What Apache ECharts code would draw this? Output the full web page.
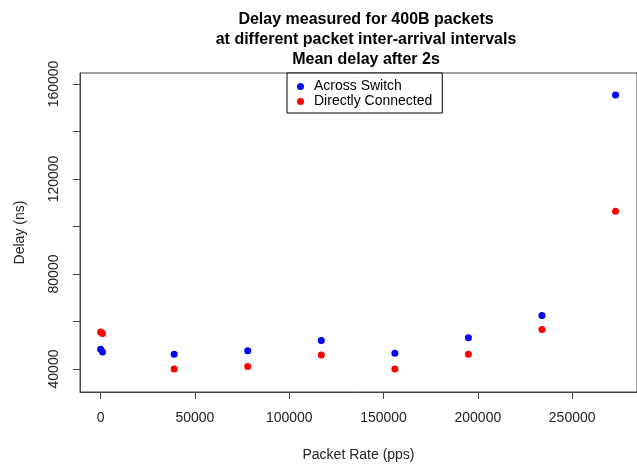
<!DOCTYPE html>
<html>
<head>
<meta charset="utf-8">
<script src="https://cdn.jsdelivr.net/npm/echarts@6/dist/echarts.min.js"></script>
<style>html,body{margin:0;padding:0;background:#fff}#c{width:637px;height:468px}</style>
</head>
<body>
<div id="c"></div>
<script>
const titleLines = ['Delay measured for 400B packets', 'at different packet inter-arrival intervals', 'Mean delay after 2s'];
const seriesNames = ['Across Switch', 'Directly Connected'];
const packetRates = [0, 1000, 39000, 78000, 117000, 156000, 195000, 234000, 273000];
const acrossSwitch = [48300, 47200, 46200, 47700, 52000, 46600, 53200, 62500, 155400];
const directlyConnected = [55600, 55000, 40000, 41100, 45900, 40000, 46200, 56600, 106400];
const xTicks = [0, 50000, 100000, 150000, 200000, 250000];
const yTicks = [40000, 60000, 80000, 100000, 120000, 140000, 160000];
const yLabels = [40000, 80000, 120000, 160000];

const chart = echarts.init(document.getElementById('c'), null, {renderer: 'canvas'});
const font = '"Liberation Sans", Arial, sans-serif';
const axisColor = '#444';
const plain = v => String(Math.round(v));
chart.setOption({
  animation: false,
  backgroundColor: '#fff',
  textStyle: {fontFamily: font},
  title: {
    text: titleLines.join('\n'),
    left: 361, top: 5, textAlign: 'center',
    textStyle: {fontFamily: font, fontSize: 16, fontWeight: 'bold', color: '#000', lineHeight: 20}
  },
  legend: {
    orient: 'vertical', left: 287, top: 73,
    data: seriesNames.map(n => ({name: n, icon: 'circle'})),
    itemWidth: 7, itemHeight: 7, itemGap: 0, itemTextGap: 5,
    padding: [6, 10, 4, 10],
    borderColor: '#000', borderWidth: 1, borderRadius: 0,
    backgroundColor: '#fff',
    textStyle: {fontFamily: font, fontSize: 14, color: '#000', lineHeight: 15, padding: [0, 0, 0, 5]}
  },
  grid: {left: 80, right: -6, top: 73, bottom: 76, show: true, borderColor: axisColor, borderWidth: 1, containLabel: false},
  xAxis: {
    type: 'value', min: -10937, max: 284374,
    name: 'Packet Rate (pps)', nameLocation: 'middle', nameGap: 56,
    nameTextStyle: {fontFamily: font, fontSize: 14, color: '#222'},
    axisLine: {show: true, onZero: false, lineStyle: {color: axisColor}},
    axisTick: {show: true, inside: false, length: 7, customValues: xTicks, lineStyle: {color: axisColor}},
    axisLabel: {customValues: xTicks, formatter: plain, margin: 19, fontSize: 14, color: '#222', fontFamily: font},
    splitLine: {show: false}
  },
  yAxis: {
    type: 'value', min: 30320, max: 164630,
    name: 'Delay (ns)', nameLocation: 'middle', nameGap: 53,
    nameTextStyle: {fontFamily: font, fontSize: 14, color: '#222'},
    axisLine: {show: true, onZero: false, lineStyle: {color: axisColor}},
    axisTick: {show: true, inside: false, length: 7, customValues: yTicks, lineStyle: {color: axisColor}},
    axisLabel: {customValues: yLabels, formatter: plain, rotate: 90, margin: 19, fontSize: 14, color: '#222', fontFamily: font},
    splitLine: {show: false}
  },
  series: [
    {name: seriesNames[0], type: 'scatter', symbol: 'circle', symbolSize: 7, itemStyle: {color: '#0000FF', opacity: 1},
     data: packetRates.map((x, i) => [x, acrossSwitch[i]])},
    {name: seriesNames[1], type: 'scatter', symbol: 'circle', symbolSize: 7, itemStyle: {color: '#FF0000', opacity: 1},
     data: packetRates.map((x, i) => [x, directlyConnected[i]])}
  ]
});
</script>
</body>
</html>
